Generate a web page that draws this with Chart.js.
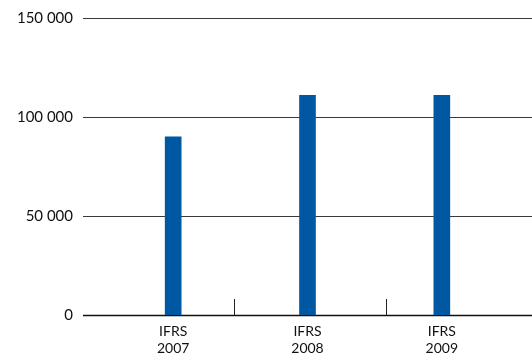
<!DOCTYPE html>
<html>
<head>
<meta charset="utf-8">
<script src="https://cdn.jsdelivr.net/npm/chart.js@4/dist/chart.umd.min.js"></script>
<style>
  html, body { margin: 0; padding: 0; background: #fff; }
  #wrap { width: 532px; height: 363px; position: relative; }
</style>
</head>
<body>
<div id="wrap"><canvas id="c" width="532" height="363"></canvas></div>
<script>
// Category labels (two lines each) and values
const standards = ['IFRS', 'IFRS', 'IFRS'];
const years = ['2007', '2008', '2009'];
const values = [90000, 111000, 111000];
const yTicks = [0, 50000, 100000, 150000];

const fmt = v => String(v).replace(/\B(?=(\d{3})+(?!\d))/g, ' ');

// Horizontal reference lines across the full width, plus short separators
// that split the baseline into equal sections, one per category
const framePlugin = {
  id: 'frame',
  beforeDatasetsDraw(chart) {
    const { ctx, scales: { y } } = chart;
    const left = 83, right = chart.width, bandRight = 537;
    ctx.save();
    yTicks.forEach(v => {
      const py = Math.round(y.getPixelForValue(v)) + 0.5;
      ctx.beginPath();
      ctx.lineWidth = v === 0 ? 1.5 : 1.2;
      ctx.strokeStyle = v === 0 ? '#111' : '#3a3a3a';
      ctx.moveTo(left, py);
      ctx.lineTo(right, py);
      ctx.stroke();
    });
    const base = Math.round(y.getPixelForValue(0));
    const step = (bandRight - left) / years.length;
    ctx.lineWidth = 1;
    ctx.strokeStyle = '#222';
    for (let i = 1; i < years.length; i++) {
      const px = Math.round(left + i * step) + 0.5;
      ctx.beginPath();
      ctx.moveTo(px, base - 16);
      ctx.lineTo(px, base);
      ctx.stroke();
    }
    ctx.restore();
  }
};

new Chart(document.getElementById('c'), {
  type: 'bar',
  data: {
    labels: years.map((yr, i) => [standards[i], yr]),
    datasets: [{
      data: values,
      backgroundColor: '#0058A3',
      barThickness: 16
    }]
  },
  options: {
    responsive: false,
    animation: false,
    devicePixelRatio: 1,
    layout: { padding: { top: 18, right: 23, bottom: 0, left: 0 } },
    plugins: { legend: { display: false }, tooltip: { enabled: false } },
    scales: {
      x: {
        grid: { display: false, drawTicks: false },
        border: { display: false },
        ticks: {
          color: '#111',
          padding: 8,
          font: { family: 'Lato', size: 14 },
          maxRotation: 0
        },
        afterFit(s) { s.height = 48; s.paddingLeft = 0; s.paddingRight = 0; }
      },
      y: {
        min: 0,
        max: 150000,
        afterBuildTicks(s) { s.ticks = yTicks.map(v => ({ value: v })); },
        grid: { display: false, drawTicks: false },
        border: { display: false },
        ticks: {
          color: '#111',
          padding: 33,
          font: { family: 'Lato', size: 15 },
          callback: v => fmt(v)
        },
        afterFit(s) { s.width = 106; s.paddingTop = 0; s.paddingBottom = 0; }
      }
    }
  },
  plugins: [framePlugin]
});
</script>
</body>
</html>
